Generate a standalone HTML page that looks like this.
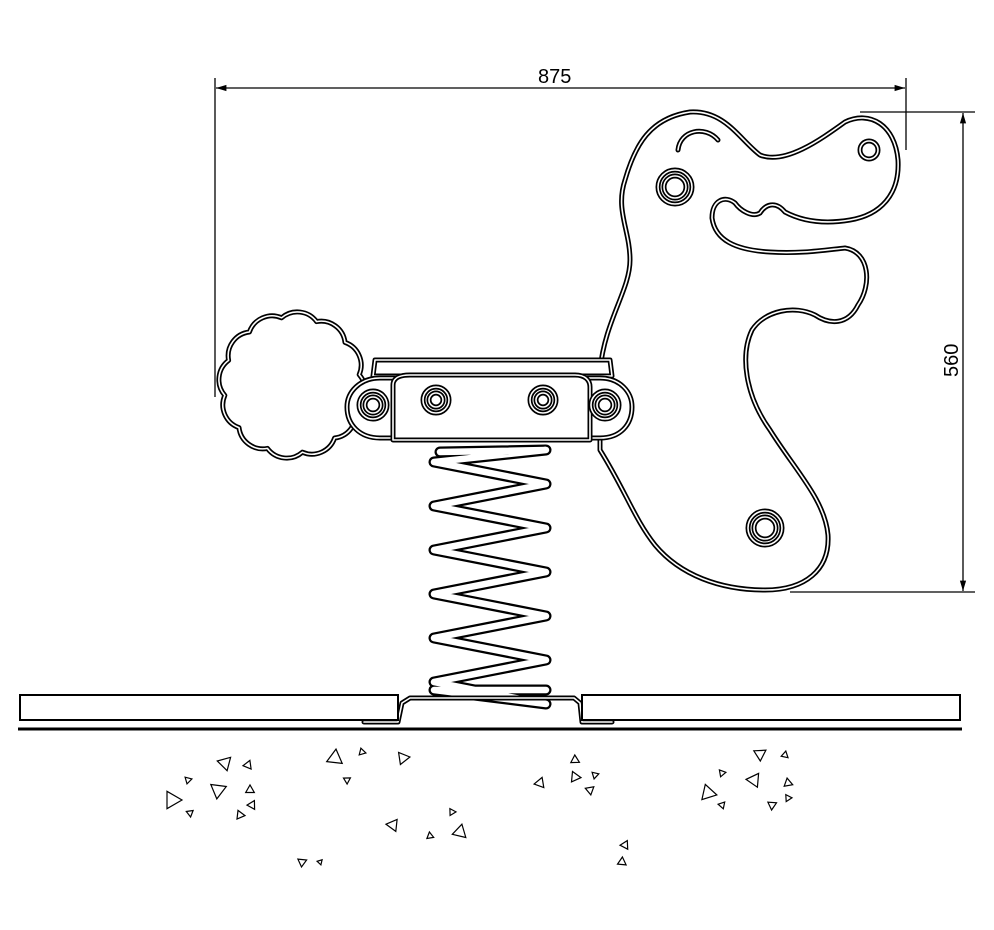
<!DOCTYPE html>
<html><head><meta charset="utf-8"><style>
html,body{margin:0;padding:0;background:#fff;width:994px;height:930px;overflow:hidden}
svg{display:block}
.d{fill:none;stroke:#000;stroke-width:5;stroke-linejoin:round;stroke-linecap:round}
.w{fill:none;stroke:#fff;stroke-width:1.6;stroke-linejoin:round;stroke-linecap:round}
.t{fill:none;stroke:#000;stroke-width:1.2}
text{font-family:"Liberation Sans",sans-serif;font-size:20px;fill:#000}
</style></head><body>
<svg id="s" width="994" height="930" viewBox="0 0 994 930">
<defs><marker id="a" viewBox="0 0 10 10" refX="10" refY="5" markerWidth="12" markerHeight="8" orient="auto-start-reverse"><path d="M0,2 L10,5 L0,8z" fill="#000"/></marker></defs>
<line x1="215" y1="78" x2="215" y2="397" stroke="#000" stroke-width="1.3"/>
<line x1="906" y1="78" x2="906" y2="150" stroke="#000" stroke-width="1.3"/>
<line x1="216" y1="88" x2="905" y2="88" stroke="#000" stroke-width="1.3" marker-start="url(#a)" marker-end="url(#a)"/>
<text x="538" y="83">875</text>
<line x1="860" y1="112" x2="975" y2="112" stroke="#000" stroke-width="1.3"/>
<line x1="790" y1="592" x2="975" y2="592" stroke="#000" stroke-width="1.3"/>
<line x1="963" y1="113" x2="963" y2="591" stroke="#000" stroke-width="1.3" marker-start="url(#a)" marker-end="url(#a)"/>
<text x="0" y="0" transform="translate(958,377) rotate(-90)">560</text>
<g id="g"></g>
<line x1="18" y1="729" x2="962" y2="729" stroke="#000" stroke-width="3"/>
<rect x="20" y="695" width="378" height="25" fill="#fff" stroke="#000" stroke-width="2"/>
<rect x="582" y="695" width="378" height="25" fill="#fff" stroke="#000" stroke-width="2"/>
<g id="tri"></g>
</svg>
<script>
var g=document.getElementById('g'),NS='http://www.w3.org/2000/svg';
function dp(d,fill,bw,ww){var p=document.createElementNS(NS,'path');p.setAttribute('d',d);p.setAttribute('class','d');if(bw)p.style.strokeWidth=bw;if(fill)p.style.fill='#fff';g.appendChild(p);var q=document.createElementNS(NS,'path');q.setAttribute('d',d);q.setAttribute('class','w');if(ww)q.style.strokeWidth=ww;g.appendChild(q);}
// flower
var cx=292,cy=385,R=68,n=12,d='';
for(var i=0;i<=n;i++){var a=i/n*2*Math.PI-1.2;var x=cx+R*Math.cos(a),y=cy+R*Math.sin(a);d+=(i?'A24 24 0 0 1 ':'M')+x.toFixed(1)+','+y.toFixed(1)+' ';}
dp(d+'Z',true);
// dino
dp('M600,370 C605,320 630,290 630,260 C630,230 615,210 625,180 C635,145 650,118 690,112 C725,110 740,140 760,155 C785,165 820,140 845,122 C870,110 895,125 898,160 C900,195 880,215 850,220 C820,225 800,220 785,212 C775,200 765,205 760,213 C752,218 740,210 735,203 C725,195 712,200 712,218 C715,240 735,250 770,252 C800,254 825,250 845,248 C870,252 872,285 858,305 C848,325 830,325 815,315 C795,305 765,310 752,330 C740,355 745,395 770,430 C795,470 825,500 828,535 C830,570 805,590 765,590 C720,590 680,575 655,545 C635,520 625,490 600,450 Z',true);
dp('M678,150 C680,130 705,125 718,140',false);
// spring helix
var sp='M440,452 L546,450 ';
for(var k=0;k<6;k++){var yl=462+44*k,yr=484+44*k;sp+='L434,'+yl+' L546,'+yr+' ';}
sp+='L434,690 L546,690';
dp(sp,false,11,6.5);
// base bracket
dp('M364,722 L398,722 L402,703 L410,698 L574,698 L580,703 L582,722 L612,722',false);
// seat
dp('M375,360 L610,360 L612,376 L373,376 Z',true);
dp('M380,378 L600,378 C620,378 632,392 632,407 C632,425 620,438 600,438 L380,438 C360,438 347,425 347,407 C347,392 360,378 380,378 Z',true);
dp('M393,440 L393,385 C393,378 400,375 410,375 L575,375 C585,375 590,380 590,387 L590,440 Z',true);
[[373,405,14],[605,405,14],[436,400,13],[543,400,13],[675,187,17],[765,528,17]].forEach(function(c){
 dp('M'+(c[0]-c[2])+','+c[1]+' a'+c[2]+','+c[2]+' 0 1,0 '+(2*c[2])+',0 a'+c[2]+','+c[2]+' 0 1,0 '+(-2*c[2])+',0',true);
 dp('M'+(c[0]-c[2]+6)+','+c[1]+' a'+(c[2]-6)+','+(c[2]-6)+' 0 1,0 '+(2*c[2]-12)+',0 a'+(c[2]-6)+','+(c[2]-6)+' 0 1,0 '+(-2*c[2]+12)+',0',false);});
dp('M860,150 a9,9 0 1,0 18,0 a9,9 0 1,0 -18,0',true);
var T=[[172,800,10],[218,790,9],[225,763,8],[248,765,5],[250,790,5],[240,815,5],[188,780,4],[190,813,4],[252,805,5],[335,758,9],[362,752,4],[403,758,7],[347,780,4],[393,825,7],[460,832,8],[430,836,4],[452,812,4],[302,862,5],[320,862,3],[540,783,6],[575,760,5],[575,777,6],[595,775,4],[590,790,5],[625,845,5],[622,862,5],[708,793,9],[722,773,4],[760,754,7],[754,780,8],[785,755,4],[788,783,5],[788,798,4],[772,805,5],[722,805,4]];
var tg=document.getElementById('tri');
T.forEach(function(t,i){var p=document.createElementNS(NS,'path');var r=t[2],a=i*1.7;var pts=[];for(var j=0;j<3;j++){var b=a+j*2.094;pts.push((t[0]+r*Math.cos(b)).toFixed(1)+','+(t[1]+r*Math.sin(b)).toFixed(1));}
p.setAttribute('d','M'+pts.join(' L')+'Z');p.setAttribute('class','t');tg.appendChild(p);});
</script>
</body></html>
